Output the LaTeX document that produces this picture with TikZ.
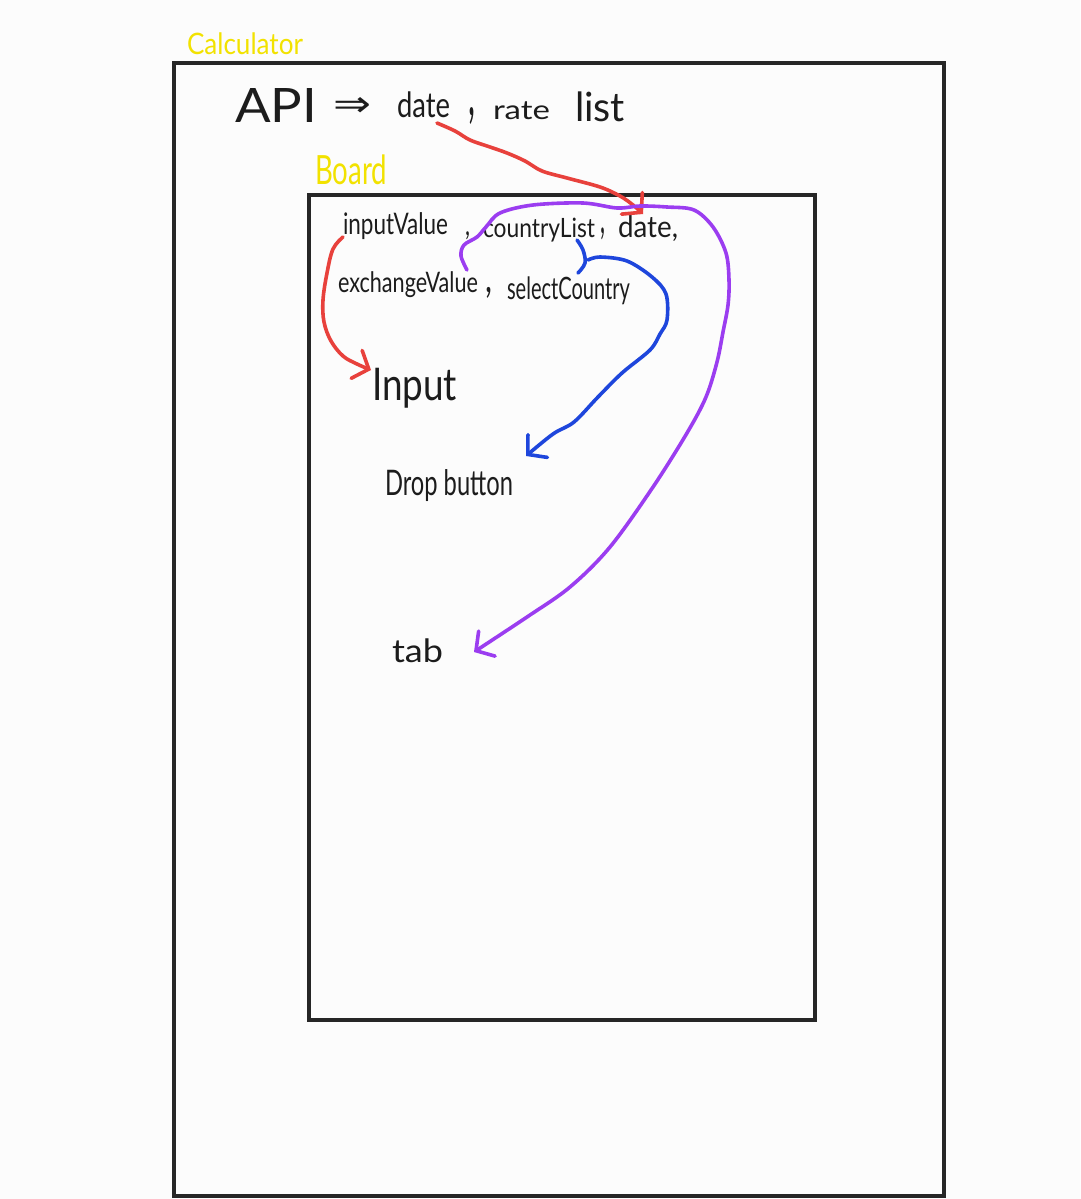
\documentclass[tikz,border=0pt]{standalone}
\usepackage{fontspec}
\setmainfont{Lato}
\newfontfamily\symfont{DejaVu Sans}
\usepackage{graphicx}
\usetikzlibrary{arrows.meta}
\definecolor{bgc}{HTML}{FCFCFC}
\definecolor{ink}{HTML}{1C1C1C}
\definecolor{frame}{HTML}{262626}
\definecolor{hlyellow}{HTML}{F2E200}
\definecolor{penred}{HTML}{E8413C}
\definecolor{penblue}{HTML}{1E46DC}
\definecolor{penpurple}{HTML}{9B3DF0}
\newcommand\hw[3]{\resizebox*{#1pt}{#2pt}{#3}}
\tikzset{
  txt/.style={anchor=north west, inner sep=0pt, outer sep=0pt, text=ink},
  ylab/.style={anchor=north west, inner sep=0pt, outer sep=0pt, text=hlyellow},
  boxline/.style={draw=frame, line width=4pt},
  pen/.style={line width=3.6pt, line cap=round, line join=round},
  tipv/.style={-{Straight Barb[length=13pt,width=30pt,line cap=round]}}
}
\begin{document}
\begin{tikzpicture}[x=1pt,y=-1pt]
\useasboundingbox (0,0) rectangle (1080,1199);
\fill[bgc] (0,0) rectangle (1080,1199);

% frames
\draw[boxline] (174,63) rectangle (944,1196);
\draw[boxline] (309,195) rectangle (815,1020);

% yellow labels
\node[ylab] (calc) at (187,33) {\hw{116}{22}{Calculator}};
\node[ylab] (board) at (315,155) {\hw{72}{30}{Board}};

% top line
\node[txt] (api) at (235,88) {\hw{82}{34}{API}};
\node[txt] (impl) at (333,98) {\hw{38}{19}{\symfont ⇒}};
\node[txt] (date1) at (397,92) {\hw{53}{26}{date}};
\node[txt] (comma1) at (468,108) {\hw{7}{17}{,}};
\node[txt] (rate) at (493,102) {\hw{57}{18}{rate}};
\node[txt] (list) at (575,92) {\hw{50}{30}{list}};

% board rows
\node[txt] (inputValue) at (343,213) {\hw{105}{27}{inputValue}};
\node[txt] (comma2) at (465,232) {\hw{5}{8}{,}};
\node[txt] (countryList) at (483,218) {\hw{112}{24}{countryList}};
\node[txt] (comma3) at (600,228) {\hw{5}{12}{,}};
\node[txt] (date2) at (618,216) {\hw{60}{26}{date,}};
\node[txt] (exchangeValue) at (338,272) {\hw{140}{26}{exchangeValue}};
\node[txt] (comma4) at (485,287) {\hw{7}{11}{,}};
\node[txt] (selectCountry) at (507,277) {\hw{123}{28}{selectCountry}};

% components
\node[txt] (input) at (372,368) {\hw{85}{40}{Input}};
\node[txt] (drop) at (385,470) {\hw{128}{32}{Drop button}};
\node[txt] (tab) at (392,639) {\hw{51}{24}{tab}};

% connector end points
\coordinate (r1s) at (437,123);
\coordinate (r1e) at (643,214);
\coordinate (r2s) at (343,237);
\coordinate (r2e) at (371,370);
\coordinate (bbs) at (577,240);
\coordinate (bbe) at (578,273);
\coordinate (b2s) at (588,260);
\coordinate (b2e) at (526,456);
\coordinate (p1s) at (467,270);
\coordinate (p1e) at (474,652);

% red: date -> board date
\draw[pen, penred, tipv] plot[smooth, tension=0.55] coordinates {
 (r1s) (455,131) (470,140) (490,147) (507,153) (525,161) (542,171)
 (567,178) (600,187) (620,196) (633,205) (r1e)};
% red: inputValue -> Input
\draw[pen, penred, tipv] plot[smooth, tension=0.6] coordinates {
 (r2s) (333,249) (327,273) (323,300) (324,322) (331,341) (343,356) (357,364) (r2e)};
% blue bracket under countryList
\draw[pen, penblue] plot[smooth, tension=0.6] coordinates {
 (bbs) (583,250) (585,263) (bbe)};
% blue: selectCountry -> Drop button
\draw[pen, penblue, tipv] plot[smooth, tension=0.55] coordinates {
 (b2s) (600,257) (627,261) (652,277) (666,294) (667,320) (660,334) (650,350)
 (622,373) (598,397) (574,422) (553,434) (b2e)};
% purple: exchangeValue/countryList/date -> tab
\draw[pen, penpurple, tipv] plot[smooth, tension=0.55] coordinates {
 (p1s) (461,256) (464,245) (477,237) (486,227) (500,213) (533,205) (583,203)
 (617,208) (640,206) (667,207) (694,210) (713,227) (726,253) (729,280)
 (728,305) (723,332) (717,362) (706,397) (687,433) (653,487) (610,547)
 (570,587) (527,617) (p1e)};
\end{tikzpicture}
\end{document}
